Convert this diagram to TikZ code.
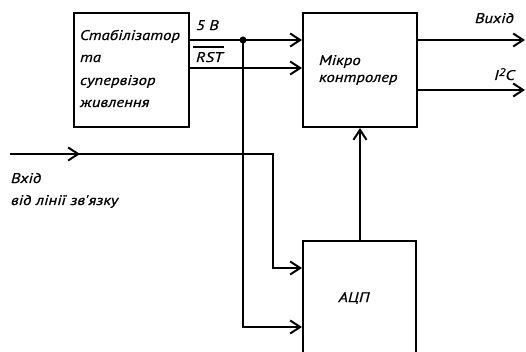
\documentclass[tikz,border=0pt]{standalone}
\usepackage{fontspec}
\newfontfamily\gost[FakeStretch=1.2,FakeBold=0.6]{PT Sans}
\usetikzlibrary{arrows.meta,positioning}

\tikzset{
  blk/.style={draw, line width=2pt, rectangle, inner sep=0pt},
  arr/.style={-{Straight Barb[length=10pt,width=13pt,line width=2pt]}},
  lbl/.style={font=\gost\itshape\fontsize{14}{17}\selectfont, inner sep=0pt, anchor=base west}
}

\begin{document}
\begin{tikzpicture}[x=1pt,y=-1pt,line width=2pt]
  \useasboundingbox (0,0) rectangle (526,352);
  \clip (0,0) rectangle (526,352);
  % blocks
  \node[blk, anchor=north west, minimum width=115pt, minimum height=114pt] (stab) at (73,12) {};
  \node[blk, anchor=north west, minimum width=114pt, minimum height=114pt] (mcu) at (302,12) {};
  \node[blk, anchor=north west, minimum width=113pt, minimum height=140pt] (adc) at (302,240) {};
  \node[lbl] (stab1) at (79,40) {Стабілізатор};
  \node[lbl] (stab2) at (79,62) {та};
  \node[lbl] (stab3) at (79,85) {супервізор};
  \node[lbl] (stab4) at (79,107) {живлення};
  \node[lbl] (mcu1) at (318,65) {Мікро};
  \node[lbl] (mcu2) at (318,82) {контролер};
  \node[lbl, anchor=center] (adctxt) at (354,298) {АЦП};
  % points
  \coordinate (v5) at (243,40);
  \coordinate (rs) at (188,68);
  \coordinate (lo) at (243,327);
  \coordinate (inp) at (10,154);
  \coordinate (bend) at (273,154);
  \coordinate (hi) at (273,268);
  \coordinate (o1) at (525,40);
  \coordinate (o2) at (525,90);
  % links
  \draw[arr] (stab.east |- v5) -- (mcu.west |- v5);
  \draw[arr] (rs) -- (mcu.west |- rs);
  \fill (v5) circle (3.5pt);
  \draw[arr] (v5) -- (lo) -- (adc.west |- lo);
  \draw[arr] (inp) -- ++(70,0);
  \draw[arr] (inp) -- (bend) -- (hi) -- (adc.west |- hi);
  \draw[arr] (adc.north -| mcu.south) -- (mcu.south);
  \draw[arr] (mcu.east |- o1) -- (o1);
  \draw[arr] (mcu.east |- o2) -- (o2);
  % labels
  \node[lbl] (l5v) at (195,30) {5 В};
  \node[lbl] (lrst) at (195,62) {RST};
  \draw ([xshift=-2pt,yshift=4pt]lrst.north west) -- ([yshift=4pt]lrst.north east);
  \node[lbl] (lout) at (474,23) {Вихід};
  \node[lbl] (li2c) at (493,80) {I\raisebox{4pt}{\fontsize{11}{11}\selectfont 2}C};
  \node[lbl] (lin1) at (10,183) {Вхід};
  \node[lbl] (lin2) at (10,205) {від лінії зв'язку};
\end{tikzpicture}
\end{document}
